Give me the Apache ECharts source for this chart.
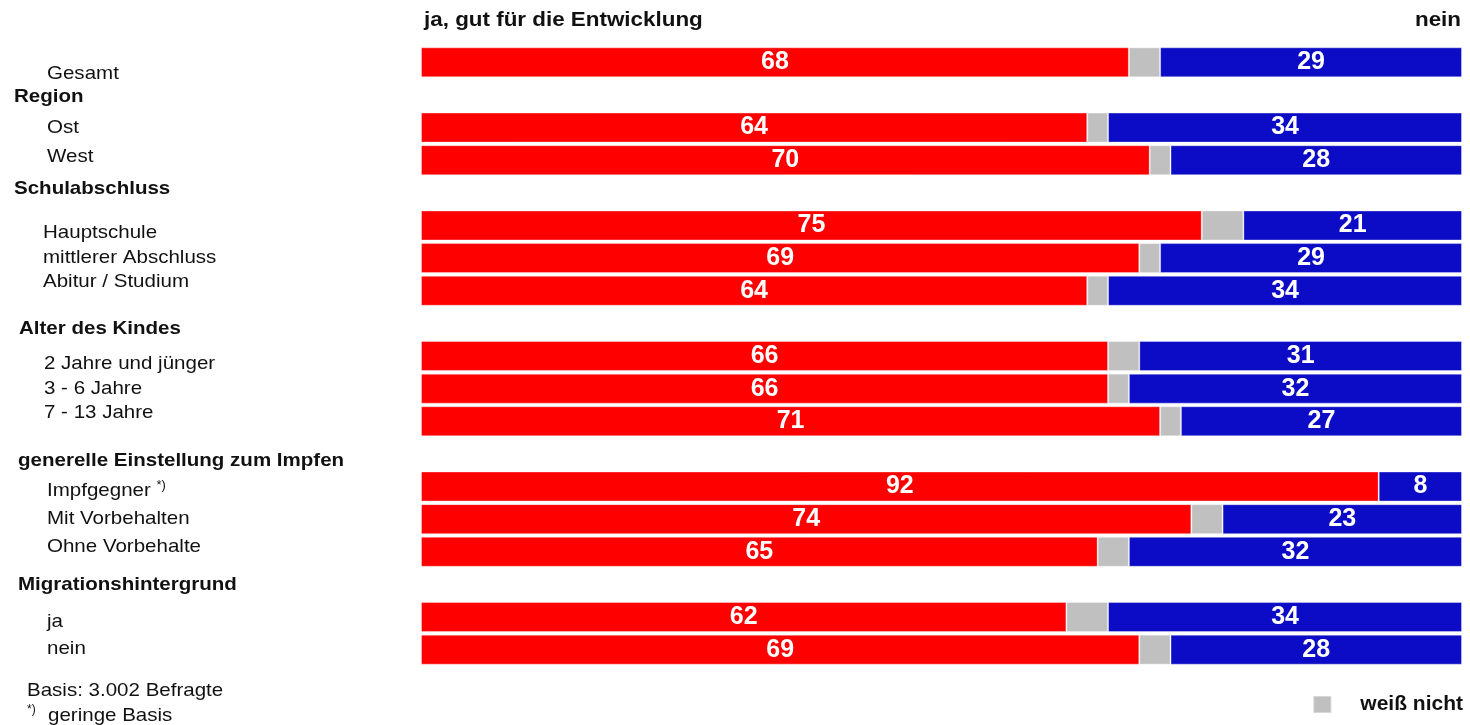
<!DOCTYPE html>
<html><head><meta charset="utf-8">
<script src="https://cdn.jsdelivr.net/npm/echarts@6/dist/echarts.min.js"></script>
<style>html,body{margin:0;padding:0;background:#fff}#c{width:1470px;height:725px}</style>
</head><body><div id="c"></div>
<script>
// ---- data ----
const categories = ['Gesamt','Region','Ost','West','Schulabschluss','Hauptschule','mittlerer Abschluss','Abitur / Studium','Alter des Kindes','2 Jahre und jünger','3 - 6 Jahre','7 - 13 Jahre','generelle Einstellung zum Impfen','Impfgegner *)','Mit Vorbehalten','Ohne Vorbehalte','Migrationshintergrund','ja','nein'];
const headings = ['Region','Schulabschluss','Alter des Kindes','generelle Einstellung zum Impfen','Migrationshintergrund'];
const jaValues = [68,null,64,70,null,75,69,64,null,66,66,71,null,92,74,65,null,62,69];
const weissNichtValues = [3,null,2,2,null,4,2,2,null,3,2,2,null,0,3,3,null,4,3];
const neinValues = [29,null,34,28,null,21,29,34,null,31,32,27,null,8,23,32,null,34,28];
const seriesNames = ['ja, gut für die Entwicklung','weiß nicht','nein'];
const footnoteBasis = 'Basis: 3.002 Befragte';
const footnoteMark = '*)';
const footnoteText = 'geringe Basis';

// ---- layout (label placement only) ----
const labelX = [47,14,47,47,14,43,43,43,19,44,44,44,18,47,47,47,18,47,47];
const labelY = [74,97,128,157,189,233,258,282,329,364,389,413,461,491,519,547,585,622,649];

const FONT = 'Liberation Sans, Arial, sans-serif';
const TXT = '#111';

function labelElement(name, i) {
  const bold = headings.includes(name);
  let text = name, rich;
  if (name.endsWith('*)')) {
    text = '{n|' + name.slice(0, -2) + '}{s|*)}';
    rich = { n: { fontSize: 19, fontFamily: FONT, fill: TXT, lineHeight: 22 },
             s: { fontSize: 12, fontFamily: FONT, fill: TXT, verticalAlign: 'top', lineHeight: 14 } };
  }
  return {
    type: 'text', x: labelX[i], y: labelY[i], scaleX: 1.08, silent: true,
    style: { text, rich, fill: TXT, fontSize: 19, fontFamily: FONT,
             fontWeight: bold ? 'bold' : 'normal', verticalAlign: 'middle', align: 'left' }
  };
}

const graphics = categories.map(labelElement);
graphics.push(
  { type: 'text', x: 424, y: 20, scaleX: 1.12, silent: true,
    style: { text: seriesNames[0], fill: TXT, fontSize: 20, fontWeight: 'bold', fontFamily: FONT, verticalAlign: 'middle', align: 'left' } },
  { type: 'text', x: 1461, y: 20, scaleX: 1.12, silent: true,
    style: { text: seriesNames[2], fill: TXT, fontSize: 20, fontWeight: 'bold', fontFamily: FONT, verticalAlign: 'middle', align: 'right' } },
  { type: 'text', x: 27, y: 691, scaleX: 1.08, silent: true,
    style: { text: footnoteBasis, fill: TXT, fontSize: 19, fontFamily: FONT, verticalAlign: 'middle', align: 'left' } },
  { type: 'text', x: 27, y: 710, silent: true,
    style: { text: footnoteMark, fill: TXT, fontSize: 12, fontFamily: FONT, verticalAlign: 'middle', align: 'left' } },
  { type: 'text', x: 48, y: 716, scaleX: 1.08, silent: true,
    style: { text: footnoteText, fill: TXT, fontSize: 19, fontFamily: FONT, verticalAlign: 'middle', align: 'left' } }
);

const valueLabel = {
  show: true, position: 'inside', color: '#fff',
  fontFamily: 'Liberation Sans Narrow, Arial Narrow, Liberation Sans, sans-serif',
  fontWeight: 'bold', fontSize: 25,
  formatter: p => (p.value == null ? '' : String(p.value))
};
const border = { borderColor: 'rgba(255,255,255,0.35)', borderWidth: 1 };

const chart = echarts.init(document.getElementById('c'), null, { renderer: 'canvas' });
chart.setOption({
  animation: false,
  backgroundColor: '#fff',
  grid: { left: 421, right: 8, top: 46, bottom: 59, containLabel: false },
  xAxis: { type: 'value', min: 0, max: 100, show: false },
  yAxis: { type: 'category', data: categories, inverse: true, show: false },
  legend: {
    data: [{ name: seriesNames[1], icon: 'rect' }],
    right: 2, top: 689, itemWidth: 18, itemHeight: 17, selectedMode: false,
    textStyle: { fontWeight: 'bold', fontSize: 21, fontFamily: FONT, color: TXT, padding: [0, 0, 0, 24] }
  },
  series: [
    { name: seriesNames[0], type: 'bar', stack: 's', barWidth: 30, data: jaValues,
      itemStyle: Object.assign({ color: '#ff0000' }, border), label: valueLabel },
    { name: seriesNames[1], type: 'bar', stack: 's', barWidth: 30, data: weissNichtValues,
      itemStyle: Object.assign({ color: '#c0c0c0' }, border), label: { show: false } },
    { name: seriesNames[2], type: 'bar', stack: 's', barWidth: 30, data: neinValues,
      itemStyle: Object.assign({ color: '#0c0cc6' }, border), label: valueLabel }
  ],
  graphic: graphics
});
</script></body></html>
